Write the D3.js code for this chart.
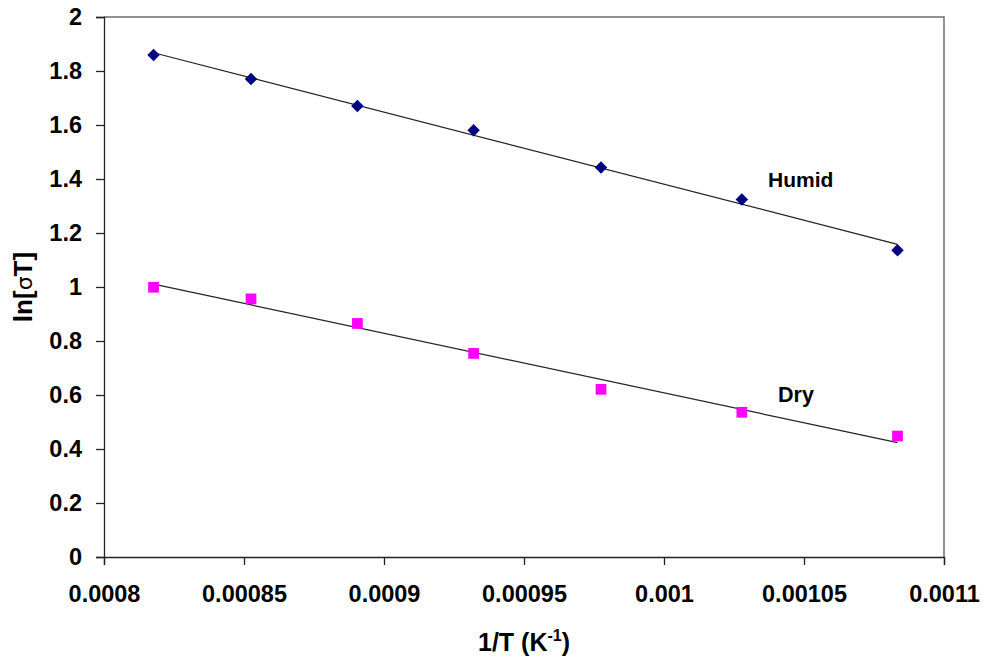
<!DOCTYPE html>
<html lang="en">
  <head>
    <meta charset="utf-8">
    <title>ln[sigma T] vs 1/T</title>
    <style>
      body { margin: 0; background: #fff; }
      svg { display: block; }
      text { font-family: "Liberation Sans", Arial, sans-serif; font-weight: bold; fill: #000; }
    </style>
    <script src="https://cdn.jsdelivr.net/npm/d3@7"></script>
  </head>
  <body>
    <div class="chart"></div>
    <script>
    // values
    const invT = [0.0008177, 0.0008525, 0.0008905, 0.0009320, 0.0009775, 0.0010278, 0.0010834];
    const humid = [1.859, 1.770, 1.670, 1.581, 1.443, 1.324, 1.136];
    const dry = [0.999, 0.956, 0.865, 0.754, 0.621, 0.536, 0.448];
    const xTicks = [0.0008, 0.00085, 0.0009, 0.00095, 0.001, 0.00105, 0.0011];
    const yTicks = [0, 0.2, 0.4, 0.6, 0.8, 1, 1.2, 1.4, 1.6, 1.8, 2];

    const width = 983, height = 659;
    const margin = { top: 17, left: 105, bottom: 102, right: 39 };

    const svg = d3.select(".chart")
      .append("svg")
      .attr("width", width)
      .attr("height", height)

    const x = d3.scaleLinear()
      .domain([0.0008, 0.0011])
      .range([margin.left - 1, width - margin.right])

    const y = d3.scaleLinear()
      .domain([0, 2])
      .range([height - margin.bottom, margin.top])

    // plot area border (top and right)
    svg.append("path")
      .attr("d", `M${x(0.0008)},${y(2)}H${x(0.0011)}V${y(0)}`)
      .attr("fill", "none")
      .attr("stroke", "#6e6e6e")
      .attr("stroke-width", 1.5)

    const xAxis = svg.append("g")
      .attr("transform", `translate(0,${y(0)})`)
      .call(d3.axisBottom(x).tickValues(xTicks).tickSize(8).tickPadding(20).tickFormat(d => String(+d.toFixed(5))))
    xAxis.selectAll("text").style("font-size", "23.5px")

    const yAxis = svg.append("g")
      .attr("transform", `translate(${x(0.0008)},0)`)
      .call(d3.axisLeft(y).tickValues(yTicks).tickSize(8).tickPadding(14).tickFormat(d => String(+d.toFixed(1))))
    yAxis.selectAll("text").style("font-size", "23.5px")

    svg.selectAll(".domain").attr("stroke", "#222").attr("stroke-width", 1.3)
    svg.selectAll(".tick line").attr("stroke", "#222").attr("stroke-width", 1.3)

    // least squares trend line, like the spreadsheet trendline
    const fit = (xs, ys) => {
      const mx = d3.mean(xs), my = d3.mean(ys)
      const sxy = d3.sum(xs, (v, i) => (v - mx) * (ys[i] - my))
      const sxx = d3.sum(xs, v => (v - mx) * (v - mx))
      const b = sxy / sxx
      const a = my - b * mx
      const ext = d3.extent(xs)
      return ext.map(v => [v, a + b * v])
    }

    const line = d3.line()
      .x(d => x(d[0]))
      .y(d => y(d[1]))

    const series = [
      { name: "Humid", values: humid, color: "#000080", rotate: 45, size: 78 },
      { name: "Dry", values: dry, color: "#ff00ff", rotate: 0, size: 115 }
    ]

    series.forEach(s => {
      svg.append("path")
        .datum(fit(invT, s.values))
        .attr("d", line)
        .attr("fill", "none")
        .attr("stroke", "#222")
        .attr("stroke-width", 1.2)
    })

    series.forEach(s => {
      svg.append("g")
        .selectAll("path")
        .data(invT.map((v, i) => [v, s.values[i]]))
        .join("path")
        .attr("transform", d => `translate(${x(d[0])},${y(d[1])}) rotate(${s.rotate})`)
        .attr("d", d3.symbol().type(d3.symbolSquare).size(s.size))
        .attr("fill", s.color)
    })

    // series labels
    svg.append("text")
      .attr("x", 768)
      .attr("y", 187)
      .style("font-size", "21px")
      .text("Humid")

    svg.append("text")
      .attr("x", 778)
      .attr("y", 402)
      .style("font-size", "21.5px")
      .text("Dry")

    // axis titles
    const xt = svg.append("text")
      .attr("x", (x(0.0008) + x(0.0011)) / 2)
      .attr("y", 651)
      .attr("text-anchor", "middle")
      .style("font-size", "25px")
    xt.append("tspan").text("1/T (K")
    xt.append("tspan").attr("dy", -10).style("font-size", "16px").text("-1")
    xt.append("tspan").attr("dy", 10).text(")")

    const yt = svg.append("text")
      .attr("transform", `translate(32,${(y(0) + y(2)) / 2}) rotate(-90)`)
      .attr("text-anchor", "middle")
      .style("font-size", "26px")
    yt.append("tspan").text("ln[")
    yt.append("tspan").style("font-family", "'DejaVu Sans', sans-serif").style("font-weight", "normal").style("font-size", "22px").text("σ")
    yt.append("tspan").text("T]")
    </script>
  </body>
</html>
